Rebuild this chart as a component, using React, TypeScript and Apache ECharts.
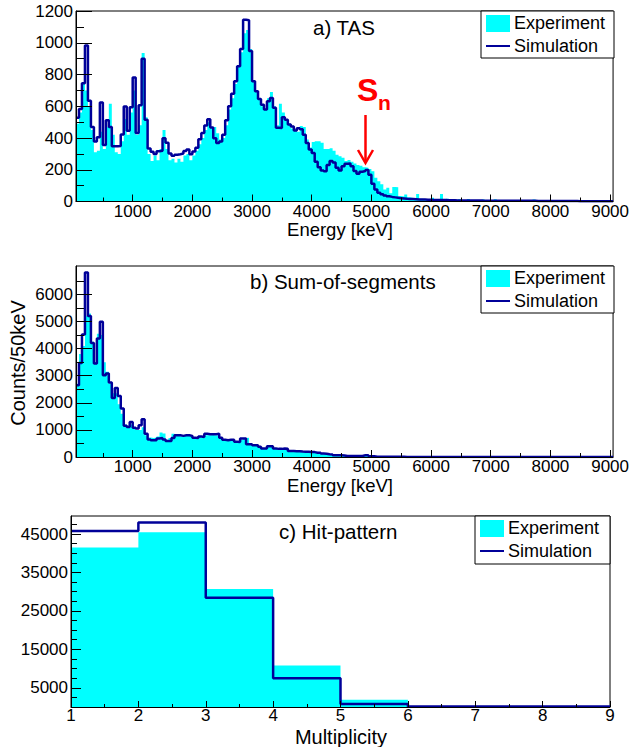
import React, { useEffect, useRef } from "react";
import * as echarts from "echarts";

// ---------- DATA ----------
const energyBinStart = 50; // keV, first bin lower edge
const energyBinWidth = 50; // keV
const energyMin = 50;
const energyMax = 9050;
const energyTickLabels = [1000, 2000, 3000, 4000, 5000, 6000, 7000, 8000, 9000];
const energyMinorTicks = [500, 1500, 2500, 3500, 4500, 5500, 6500, 7500, 8500];

// a) TAS
const tasExperiment = [
  490, 560, 745, 700, 600, 450, 310, 320, 440, 330,
  470, 615, 420, 310, 300, 380, 520, 420, 560, 700,
  420, 480, 935, 530, 300, 255, 290, 260, 330, 450,
  330, 260, 270, 245, 270, 250, 290, 300, 260, 290,
  320, 360, 400, 450, 500, 470, 470, 430, 390, 400,
  480, 580, 650, 740, 860, 940, 1060, 1080, 960, 760,
  690, 650, 600, 580, 650, 690, 600, 480, 615, 560,
  520, 490, 460, 450, 440, 475, 470, 390, 340, 375,
  380, 380, 370, 330, 330, 335, 320, 295, 285, 275,
  255, 262, 250, 240, 230, 225, 215, 212, 205, 190,
  150, 128, 108, 76, 86, 52, 92, 90, 35, 32,
  44, 26, 22, 20, 48, 18, 15, 14, 12, 24,
  10, 12, 48, 10, 17, 8, 12, 9, 14, 7,
  10, 16, 8, 6, 9, 7, 12, 5, 8, 6,
  14, 5, 7, 9, 4, 6, 10, 5, 4, 8,
  6, 3, 5, 12, 4, 3, 6, 4, 5, 3,
  6, 8, 3, 4, 2, 5, 3, 4, 7, 3,
  2, 4, 10, 3, 2, 4, 3, 2, 3, 2,
];
const tasSimulation = [
  528, 582, 745, 982, 635, 470, 378, 404, 624, 356,
  512, 470, 348, 348, 350, 422, 598, 446, 594, 781,
  432, 606, 900, 515, 334, 314, 300, 316, 320, 398,
  370, 302, 288, 295, 298, 302, 318, 328, 298, 315,
  338, 392, 432, 478, 518, 466, 398, 368, 378, 421,
  512, 600, 678, 758, 852, 960, 1145, 1142, 948, 758,
  695, 645, 610, 580, 632, 652, 590, 465, 463, 530,
  515, 485, 473, 448, 462, 455, 421, 368, 327, 306,
  250, 215, 195, 190, 230, 255, 245, 212, 195, 222,
  238, 240, 222, 192, 175, 188, 192, 198, 168, 112,
  75, 55, 45, 38, 33, 29, 26, 23, 21, 19,
  17, 16, 15, 14, 13, 12, 12, 11, 11, 10,
  10, 9, 9, 9, 8, 8, 8, 7, 7, 7,
  7, 6, 6, 6, 6, 6, 5, 5, 5, 5,
  5, 5, 5, 4, 4, 4, 4, 4, 4, 4,
  4, 4, 4, 4, 3, 3, 3, 3, 3, 3,
  3, 3, 3, 3, 3, 3, 3, 3, 2, 2,
  2, 2, 2, 2, 2, 2, 2, 2, 2, 2,
];
const tasYLabels = [0, 200, 400, 600, 800, 1000, 1200];
const tasYMinor = [100, 300, 500, 700, 900, 1100];

// b) Sum-of-segments
const sosExperiment = [
  2700, 3800, 4100, 5200, 5300, 4250, 3500, 4550, 4500, 3500,
  3150, 2700, 2350, 2350, 1950, 1600, 1200, 1150, 1200, 1050,
  1000, 1000, 1100, 800, 720, 700, 720, 760, 900, 870,
  640, 700, 860, 780, 800, 760, 800, 820, 790, 740,
  700, 760, 700, 800, 800, 810, 790, 800, 700, 620,
  600, 610, 620, 540, 540, 640, 700, 715, 450, 420,
  410, 360, 300, 300, 370, 380, 300, 280, 285, 290,
  290, 215, 210, 200, 200, 190, 185, 185, 175, 170,
  150, 140, 118, 110, 95, 85, 62, 58, 55, 52,
  38, 36, 34, 33, 32, 38, 58, 55, 28, 22,
  10, 8, 7, 6, 6, 5, 5, 4, 4, 4,
  3, 3, 3, 3, 3, 2, 2, 2, 2, 2,
  2, 2, 2, 2, 2, 2, 2, 2, 2, 2,
  2, 2, 1, 2, 1, 1, 2, 1, 1, 1,
  1, 1, 1, 1, 1, 1, 1, 1, 1, 1,
  1, 1, 1, 1, 1, 1, 1, 1, 1, 1,
  1, 1, 1, 1, 1, 1, 1, 1, 1, 1,
  1, 1, 1, 1, 1, 1, 1, 1, 1, 1,
];
const sosSimulation = [
  2650, 3470, 4520, 6810, 5200, 4210, 3450, 4370, 4990, 3020,
  3080, 2750, 2180, 2550, 2250, 1790, 1150, 1110, 1290, 1080,
  1050, 1170, 1390, 860, 650, 620, 620, 680, 700, 650,
  590, 590, 700, 800, 800, 780, 800, 800, 780, 710,
  700, 760, 740, 860, 840, 840, 840, 860, 715, 640,
  620, 640, 640, 560, 555, 680, 680, 470, 470, 430,
  430, 380, 310, 310, 395, 395, 310, 300, 300, 310,
  305, 225, 220, 210, 210, 200, 198, 195, 185, 180,
  160, 155, 125, 120, 100, 95, 65, 62, 60, 58,
  40, 38, 36, 36, 35, 40, 62, 60, 30, 25,
  12, 9, 8, 7, 7, 6, 6, 5, 5, 5,
  4, 4, 4, 4, 4, 3, 3, 3, 3, 3,
  3, 3, 3, 3, 3, 3, 2, 2, 2, 2,
  2, 2, 2, 2, 2, 2, 2, 2, 2, 2,
  2, 2, 2, 2, 2, 1, 1, 1, 1, 1,
  1, 1, 1, 1, 1, 1, 1, 1, 1, 1,
  1, 1, 1, 1, 1, 1, 1, 1, 1, 1,
  1, 1, 1, 1, 1, 1, 1, 1, 1, 1,
];
const sosYLabels = [0, 1000, 2000, 3000, 4000, 5000, 6000];
const sosYMinor = [500, 1500, 2500, 3500, 4500, 5500, 6500];

// c) Hit-pattern
const multiplicityBins = [1, 2, 3, 4, 5, 6, 7, 8];
const hitExperiment = [41500, 45500, 30700, 10800, 1900, 0, 0, 0];
const hitSimulation = [45800, 48000, 28400, 7450, 750, 150, 120, 100];
const multiplicityLabels = [1, 2, 3, 4, 5, 6, 7, 8, 9];
const multiplicityMinor = [1.5, 2.5, 3.5, 4.5, 5.5, 6.5, 7.5, 8.5];
const hitYLabels = [5000, 15000, 25000, 35000, 45000];
const hitYMinor = [2500, 7500, 10000, 12500, 17500, 20000, 22500, 27500, 30000, 32500, 37500, 40000, 42500, 47500];

// ---------- STYLE ----------
const FONT = "'Liberation Sans', Arial, Helvetica, sans-serif";
const EXP_COLOR = "#00FFFF";
const SIM_COLOR = "#000099";

function stepPoints(start: number, width: number, values: number[]) {
  const pts: number[][] = values.map((v, i) => [start + i * width, v]);
  pts.push([start + values.length * width, values[values.length - 1]]);
  return pts;
}

function makeXAxes(grid: number, min: number, max: number, labels: number[], minor: number[], majorLen: number, minorLen: number, fontSize: number, margin: number) {
  return [
    {
      type: "value", gridIndex: grid, min, max, position: "bottom", z: 10,
      axisLine: { show: true, onZero: false, lineStyle: { color: "#000", width: 1 } },
      axisTick: { show: true, inside: true, length: majorLen, customValues: labels, lineStyle: { color: "#000", width: 1 } },
      axisLabel: { show: true, customValues: labels, color: "#000", fontSize, fontFamily: FONT, margin, formatter: (v: number) => String(v) },
      splitLine: { show: false },
    },
    {
      type: "value", gridIndex: grid, min, max, position: "bottom", z: 10,
      axisLine: { show: false },
      axisTick: { show: true, inside: true, length: minorLen, customValues: minor, lineStyle: { color: "#000", width: 1 } },
      axisLabel: { show: false },
      splitLine: { show: false },
    },
  ];
}

function makeYAxes(grid: number, min: number, max: number, labels: number[], minor: number[], majorLen: number, minorLen: number, fontSize: number, margin: number) {
  return [
    {
      type: "value", gridIndex: grid, min, max, position: "left", z: 10,
      axisLine: { show: true, onZero: false, lineStyle: { color: "#000", width: 1 } },
      axisTick: { show: true, inside: true, length: majorLen, customValues: labels, lineStyle: { color: "#000", width: 1 } },
      axisLabel: { show: true, customValues: labels, color: "#000", fontSize, fontFamily: FONT, margin, formatter: (v: number) => String(v) },
      splitLine: { show: false },
    },
    {
      type: "value", gridIndex: grid, min, max, position: "left", z: 10,
      axisLine: { show: false },
      axisTick: { show: true, inside: true, length: minorLen, customValues: minor, lineStyle: { color: "#000", width: 1 } },
      axisLabel: { show: false },
      splitLine: { show: false },
    },
  ];
}

function expSeries(xi: number, yi: number, data: number[][]) {
  return {
    type: "line", xAxisIndex: xi, yAxisIndex: yi, step: "end", data,
    symbol: "none", z: 2, silent: true,
    lineStyle: { width: 0, color: EXP_COLOR },
    itemStyle: { color: EXP_COLOR },
    areaStyle: { color: EXP_COLOR, opacity: 1 },
  };
}
function simSeries(xi: number, yi: number, data: number[][]) {
  return {
    type: "line", xAxisIndex: xi, yAxisIndex: yi, step: "end", data,
    symbol: "none", z: 3, silent: true,
    lineStyle: { width: 2.5, color: SIM_COLOR },
    itemStyle: { color: SIM_COLOR },
  };
}

function legend(x: number, y: number, w: number, h: number) {
  return [
    { type: "rect", z: 100, shape: { x, y, width: w, height: h }, style: { fill: "#fff", stroke: "#000", lineWidth: 1 } },
    { type: "rect", z: 101, shape: { x: x + 5, y: y + 4, width: 24, height: 17 }, style: { fill: EXP_COLOR } },
    { type: "line", z: 101, shape: { x1: x + 5, y1: y + 35, x2: x + 29, y2: y + 35 }, style: { stroke: SIM_COLOR, lineWidth: 2 } },
    { type: "text", z: 101, x: x + 33, y: y + 12, style: { text: "Experiment", fill: "#000", font: `18px ${FONT}`, align: "left", verticalAlign: "middle" } },
    { type: "text", z: 101, x: x + 33, y: y + 35, style: { text: "Simulation", fill: "#000", font: `18px ${FONT}`, align: "left", verticalAlign: "middle" } },
  ];
}

function textEl(text: string, x: number, y: number, size: number, align = "left", extra: any = {}) {
  return { type: "text", z: 100, x, y, ...extra, style: { text, fill: "#000", font: `${size}px ${FONT}`, align, verticalAlign: "middle" } };
}

export default function App() {
  const ref = useRef<HTMLDivElement>(null);
  useEffect(() => {
    if (!ref.current) return;
    const chart = echarts.init(ref.current, undefined, { renderer: "svg" });
    const option: any = {
      animation: false,
      backgroundColor: "#fff",
      grid: [
        { left: 76, top: 11, width: 538, height: 190.5, show: true, borderColor: "#000", borderWidth: 1, backgroundColor: "transparent" },
        { left: 76, top: 266, width: 538, height: 191, show: true, borderColor: "#000", borderWidth: 1, backgroundColor: "transparent" },
        { left: 71, top: 516, width: 539, height: 191, show: true, borderColor: "#000", borderWidth: 1, backgroundColor: "transparent" },
      ],
      xAxis: [
        ...makeXAxes(0, energyMin, energyMax, energyTickLabels, energyMinorTicks, 7, 4, 17, 1),
        ...makeXAxes(1, energyMin, energyMax, energyTickLabels, energyMinorTicks, 7, 4, 17, 1),
        ...makeXAxes(2, 1, 9, multiplicityLabels, multiplicityMinor, 6, 3, 17, 0),
      ],
      yAxis: [
        ...makeYAxes(0, 0, 1200, tasYLabels, tasYMinor, 16, 8, 17, 3),
        ...makeYAxes(1, 0, 7050, sosYLabels, sosYMinor, 16, 8, 17, 3),
        ...makeYAxes(2, 0, 49700, hitYLabels, hitYMinor, 10, 6, 17, 3),
      ],
      series: [
        expSeries(0, 0, stepPoints(energyBinStart, energyBinWidth, tasExperiment)),
        simSeries(0, 0, stepPoints(energyBinStart, energyBinWidth, tasSimulation)),
        expSeries(2, 2, stepPoints(energyBinStart, energyBinWidth, sosExperiment)),
        simSeries(2, 2, stepPoints(energyBinStart, energyBinWidth, sosSimulation)),
        expSeries(4, 4, stepPoints(multiplicityBins[0], 1, hitExperiment)),
        simSeries(4, 4, stepPoints(multiplicityBins[0], 1, hitSimulation)),
      ],
      graphic: [
        ...legend(481, 11, 133, 47),
        ...legend(481, 266, 133, 47),
        ...legend(475, 516, 135, 48),
        textEl("a) TAS", 313, 27, 20.5),
        textEl("b) Sum-of-segments", 250, 281, 20.5),
        textEl("c) Hit-pattern", 279, 531, 20.5),
        textEl("Energy [keV]", 340, 229.5, 18.5, "center"),
        textEl("Energy [keV]", 340, 485, 18.5, "center"),
        textEl("Multiplicity", 341, 736.5, 20, "center"),
        textEl("Counts/50keV", 18, 363, 20, "center", { rotation: Math.PI / 2 }),
        { type: "text", z: 100, x: 357, y: 90, style: { text: "S", fill: "#ff0000", font: `bold 32px ${FONT}`, align: "left", verticalAlign: "middle" } },
        { type: "text", z: 100, x: 378, y: 102, style: { text: "n", fill: "#ff0000", font: `bold 21px ${FONT}`, align: "left", verticalAlign: "middle" } },
        { type: "line", z: 100, shape: { x1: 365.5, y1: 115, x2: 365.5, y2: 161 }, style: { stroke: "#ff0000", lineWidth: 2.5 } },
        { type: "polyline", z: 100, shape: { points: [[358, 150], [365.5, 163], [373, 150]] }, style: { stroke: "#ff0000", lineWidth: 2.5, fill: "none" } },
      ],
    };
    chart.setOption(option);
    return () => chart.dispose();
  }, []);
  return <div ref={ref} style={{ position: "absolute", left: 0, top: 0, width: 632, height: 747 }} />;
}
